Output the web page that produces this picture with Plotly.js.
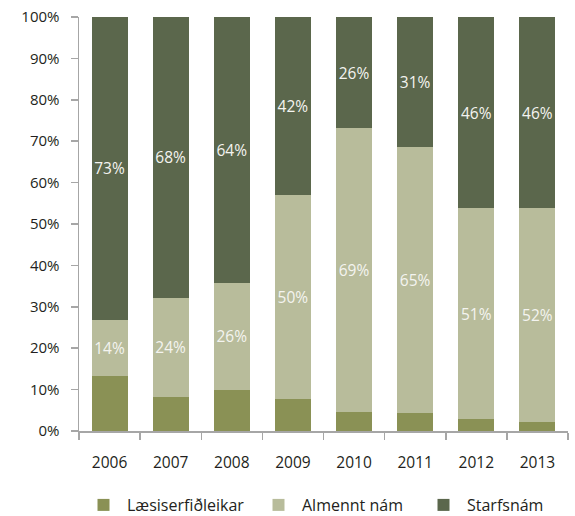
<!DOCTYPE html>
<html>
<head>
<meta charset="utf-8">
<script src="https://cdn.plot.ly/plotly-3.0.1.min.js"></script>
<style>html,body{margin:0;padding:0;background:#fff;}#chart{width:575px;height:516px;}</style>
</head>
<body>
<div id="chart"></div>
<script>
var years = ['2006','2007','2008','2009','2010','2011','2012','2013'];
var seriesNames = ['Læsiserfiðleikar','Almennt nám','Starfsnám'];
var laesi    = [13.4, 8.2, 9.9, 7.7, 4.6, 4.4, 2.9, 2.2];
var almennt  = [13.5, 24.0, 25.9, 49.4, 68.5, 64.1, 50.9, 51.6];
var starfs   = [73.1, 67.8, 64.2, 42.9, 26.9, 31.5, 46.2, 46.2];
var almenntLabels = ['14%','24%','26%','50%','69%','65%','51%','52%'];
var starfsLabels  = ['73%','68%','64%','42%','26%','31%','46%','46%'];
var yTickVals = [0,10,20,30,40,50,60,70,80,90,100];
var yTickText = ['0%','10%','20%','30%','40%','50%','60%','70%','80%','90%','100%'];

var FONT = 'Open Sans, sans-serif';
var colors = ['#8a9155','#b8bc9b','#5b674c'];

function bar(name, vals, labels, color, legendId){
  var t = {
    type:'bar', x:years, y:vals, name:name,
    marker:{color:color},
    legend: legendId,
    hoverinfo:'skip'
  };
  if(labels){
    t.text = labels;
    t.textposition = 'inside';
    t.insidetextanchor = 'middle';
    t.textangle = 0;
    t.constraintext = 'none';
    t.textfont = {family:FONT, size:15.5, color:'#f4f4f0'};
  } else {
    t.textposition = 'none';
  }
  return t;
}

var data = [
  bar(seriesNames[0], laesi, null, colors[0], 'legend'),
  bar(seriesNames[1], almennt, almenntLabels, colors[1], 'legend2'),
  bar(seriesNames[2], starfs, starfsLabels, colors[2], 'legend3')
];

function leg(xpx){
  return {orientation:'h', xref:'container', yref:'container', x:xpx/575, y:1-505/516,
          xanchor:'left', yanchor:'middle', bgcolor:'rgba(0,0,0,0)', itemwidth:37,
          font:{family:FONT, size:16, color:'#231f20'}};
}

var layout = {
  width:575, height:516,
  margin:{l:79, r:7, t:17, b:85},
  paper_bgcolor:'#fff', plot_bgcolor:'#fff',
  barmode:'stack', bargap:0.41,
  showlegend:true,
  legend: leg(80),
  legend2: leg(255),
  legend3: leg(420),
  font:{family:FONT, size:15, color:'#231f20'},
  xaxis:{
    type:'category', showgrid:false, zeroline:false,
    showline:true, linecolor:'#a6a6a6', linewidth:1.5,
    ticks:'outside', tickson:'boundaries', ticklen:7, tickcolor:'#a6a6a6', tickwidth:1.5,
    tickfont:{family:FONT, size:15.5, color:'#231f20'},
    ticklabelstandoff:17
  },
  yaxis:{
    range:[0,100], tickvals:yTickVals, ticktext:yTickText,
    showgrid:false, zeroline:false,
    showline:true, linecolor:'#a6a6a6', linewidth:1.5,
    ticks:'outside', ticklen:7, tickcolor:'#a6a6a6', tickwidth:1.5,
    tickfont:{family:FONT, size:15, color:'#231f20'},
    ticklabelstandoff:8
  }
};

Plotly.newPlot('chart', data, layout, {staticPlot:true, displayModeBar:false});
</script>
</body>
</html>
